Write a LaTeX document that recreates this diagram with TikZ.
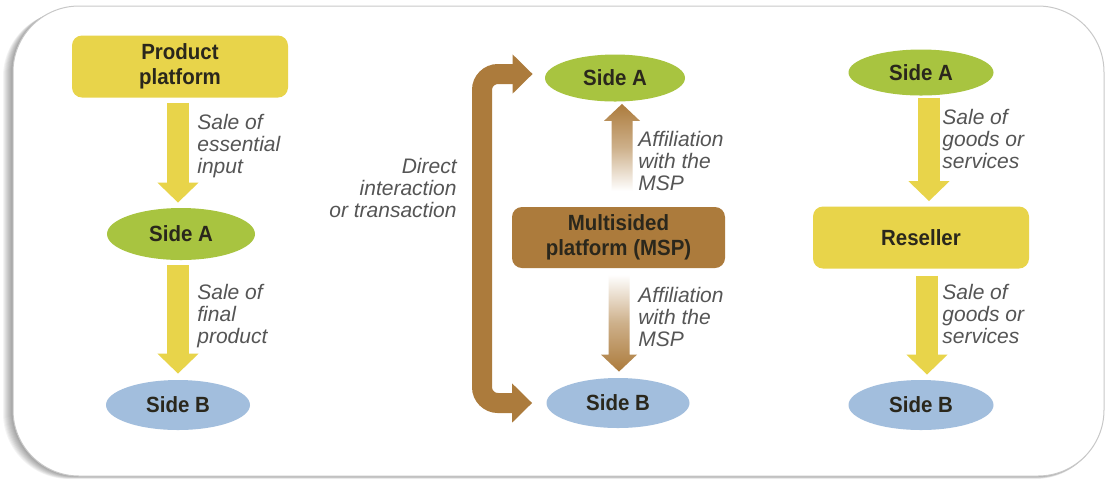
\documentclass[tikz,border=0pt]{standalone}
\usepackage{fontspec}
\setmainfont{Liberation Sans}
\newfontfamily\lblbold[FakeStretch=0.93]{Liberation Sans}
\usetikzlibrary{arrows.meta,calc,shapes.geometric}

\definecolor{boxyellow}{HTML}{E8D44A}
\definecolor{sidegreen}{HTML}{A8C440}
\definecolor{sideblue}{HTML}{A2BEDD}
\definecolor{mspbrown}{HTML}{AC7B3C}
\definecolor{darktext}{HTML}{2A271C}
\definecolor{notetext}{HTML}{555555}
\definecolor{framegray}{HTML}{C8C8C8}

\tikzset{
  title/.style={font=\lblbold\bfseries\fontsize{11pt}{12.5pt}\selectfont,
    text=darktext, align=center, inner sep=0pt},
  platebox/.style={title, rectangle, rounded corners=5pt,
    minimum width=108pt, minimum height=31pt},
  sidea/.style={title, ellipse, fill=sidegreen, minimum width=72pt, minimum height=24pt},
  sideb/.style={title, ellipse, fill=sideblue, minimum width=72pt, minimum height=25pt},
  note/.style={font=\itshape\fontsize{10.5pt}{10.9pt}\selectfont,
    text=notetext, align=left, inner sep=0pt, anchor=north west},
  flow/.style={draw=boxyellow, line width=11pt,
    -{Triangle[width=20pt,length=10pt]}},
  tipbig/.tip={Triangle[width=19pt,length=10pt]},
}

\begin{document}
\begin{tikzpicture}[x=0.5pt,y=-0.5pt]
\useasboundingbox (0,0) rectangle (1105,479);

% soft shadow under the card
\foreach \i in {1,...,10}
  \fill[black, opacity=0.045, rounded corners=33pt]
    (13-\i,6+0.5*\i) rectangle (1104-0.25*\i,476+0.3*\i);
% card
\fill[white, rounded corners=33pt] (13,6) rectangle (1104,476);
\draw[framegray, line width=0.5pt, rounded corners=33pt] (13,6) rectangle (1104,476);

% ---------- product platform column ----------
\node[platebox, fill=boxyellow] (pp) at (180,66.5) {Product\\platform};
\node[sidea, minimum width=74pt, minimum height=26pt] (la) at (181,234) {Side A};
\node[sideb] (lb) at (178,405) {Side B};

\draw[flow] ($(pp.south)+(-2,5)$) -- ($(pp.south |- la.north)+(-2,-5)$);
\draw[flow] ($(la.south)+(-3,5)$) -- ($(la.south |- lb.north)+(-3,-6)$);

\node[note] (n1) at (197,114) {Sale of\\essential\\input};
\node[note] (n2) at (197,284) {Sale of\\final\\product};

% ---------- multisided platform column ----------
\node[sidea, minimum width=70pt, minimum height=23.5pt] (ma) at (615,78) {Side A};
\node[platebox, fill=mspbrown, minimum width=106.5pt, minimum height=30.5pt] (msp)
  at (618.5,237.5) {Multisided\\platform (MSP)};
\node[sideb, minimum width=71.5pt] (mb) at (618,403) {Side B};

% affiliation arrows, fading toward the platform
\coordinate (ut) at ($(ma.south)+(7,2)$);
\shade[top color=mspbrown, bottom color=white, middle color=mspbrown!60]
  (ut) -- ++(18,17) -- ++(-7.5,0) -- ++(0,70) -- ++(-21,0) -- ++(0,-70) -- ++(-7.5,0) -- cycle;
\coordinate (dt) at ($(mb.north)+(1,-6)$);
\shade[top color=white, bottom color=mspbrown, middle color=mspbrown!60]
  (dt) -- ++(18,-17) -- ++(-7.5,0) -- ++(0,-80) -- ++(-21,0) -- ++(0,80) -- ++(-7.5,0) -- cycle;

% direct interaction bracket
\coordinate (bx) at (482,0);
\coordinate (ta) at ($(ma.west)+(-12,-4)$);
\coordinate (tb) at ($(mb.west)+(-14,0)$);
\draw[draw=mspbrown, line width=10pt, rounded corners=8pt, tipbig-tipbig]
  (ta) -- (ta -| bx) -- (tb -| bx) -- (tb);

\node[note, anchor=north east, align=right] (n3) at (457,158)
  {Direct\\interaction\\or transaction};
\node[note] (n4) at (638,131) {Affiliation\\with the\\MSP};
\node[note] (n5) at (638,287) {Affiliation\\with the\\MSP};

% ---------- reseller column ----------
\node[sidea, minimum width=72.5pt, minimum height=23pt] (ra) at (921,72.5) {Side A};
\node[platebox, fill=boxyellow] (rr) at (921,237.5) {Reseller};
\node[sideb, minimum width=72.5pt] (rb) at (921,405) {Side B};

\draw[flow] ($(ra.south)+(8,2)$) -- ($(ra.south |- rr.north)+(8,-5)$);
\draw[flow] ($(rr.south)+(6,7)$) -- ($(rr.south |- rb.north)+(6,-5)$);

\node[note] (n6) at (942,109) {Sale of\\goods or\\services};
\node[note] (n7) at (942,284) {Sale of\\goods or\\services};
\end{tikzpicture}
\end{document}
